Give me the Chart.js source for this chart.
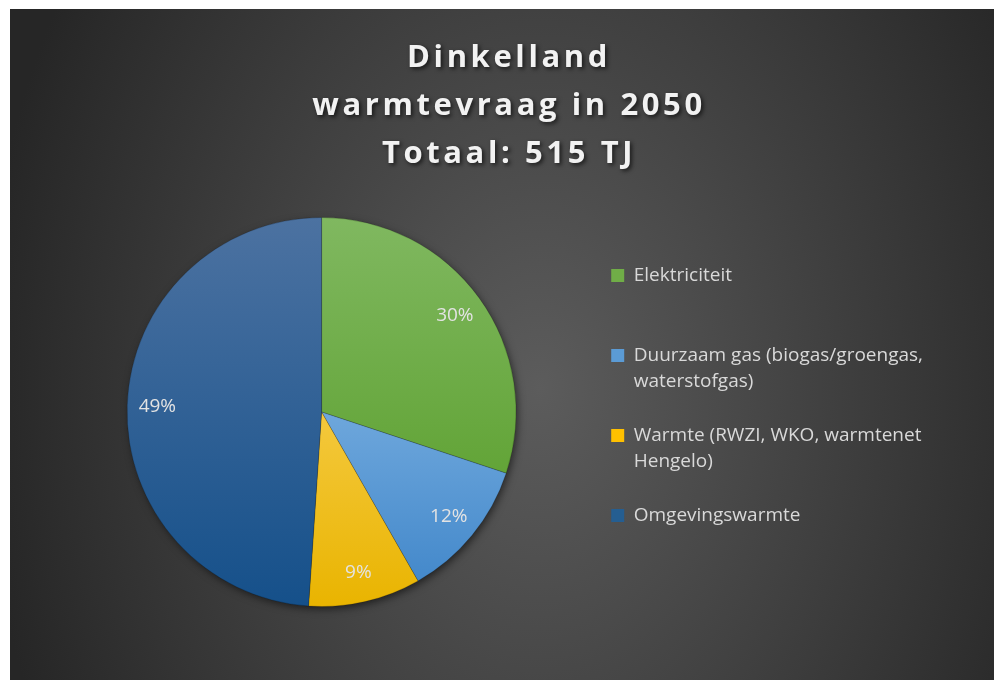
<!DOCTYPE html>
<html lang="nl">
<head>
<meta charset="utf-8">
<title>Dinkelland warmtevraag in 2050</title>
<script src="https://cdn.jsdelivr.net/npm/chart.js@4.4.1/dist/chart.umd.min.js"></script>
<style>
  html, body { margin: 0; padding: 0; background: #fff; }
  #frame {
    position: absolute; left: 10px; top: 9px; width: 984px; height: 671px;
    background: radial-gradient(ellipse 560px 760px at 530px 380px, #5c5c5c 0%, #262626 100%);
  }
  canvas { display: block; }
</style>
</head>
<body>
<div id="frame"><canvas id="warmteChart" width="984" height="671"></canvas></div>
<script>
/* Dinkelland – warmtevraag 2050, verdeling per bron (TJ) */

const titleLines = ['Dinkelland', 'warmtevraag in 2050', 'Totaal: 515 TJ'];
const categories = [
  'Elektriciteit',
  'Duurzaam gas (biogas/groengas, waterstofgas)',
  'Warmte (RWZI, WKO, warmtenet Hengelo)',
  'Omgevingswarmte'
];
// legend text as Excel wraps it (every item takes two lines of room)
const legendLines = [
  ['Elektriciteit', ''],
  ['Duurzaam gas (biogas/groengas,', 'waterstofgas)'],
  ['Warmte (RWZI, WKO, warmtenet', 'Hengelo)'],
  ['Omgevingswarmte', '']
];
const valuesTJ = [155, 60, 48, 252];

const sliceColors = ['#70ad47', '#5b9bd5', '#ffc000', '#255e91'];
const sliceTop    = ['#80b860', '#9fcaf0', '#ffdd7b', '#4c72a1'];
const sliceBottom = ['#539a22', '#3d84c8', '#e9b400', '#15508a'];

const FONT = "'Open Sans', 'Noto Sans', sans-serif";

// vertical gradient over the pie (pie fills the chart area height)
function sliceFill(c) {
  const area = c.chart.chartArea;
  if (!area) return sliceColors[c.dataIndex];
  const g = c.chart.ctx.createLinearGradient(0, area.top, 0, area.bottom);
  g.addColorStop(0, sliceTop[c.dataIndex]);
  g.addColorStop(1, sliceBottom[c.dataIndex]);
  return g;
}

// soft drop shadow under the whole pie
const pieShadow = {
  id: 'pieShadow',
  beforeDatasetsDraw(chart) {
    const arc = chart.getDatasetMeta(0).data[0];
    if (!arc) return;
    const ctx = chart.ctx;
    ctx.save();
    ctx.shadowColor = 'rgba(0,0,0,0.6)';
    ctx.shadowBlur = 9;
    ctx.shadowOffsetX = 2;
    ctx.shadowOffsetY = 3;
    ctx.fillStyle = '#2e2e2e';
    ctx.beginPath();
    ctx.arc(arc.x, arc.y, arc.outerRadius - 1, 0, Math.PI * 2);
    ctx.fill();
    ctx.restore();
  }
};

// percentage labels inside the slices
const sliceLabels = {
  id: 'sliceLabels',
  afterDatasetsDraw(chart) {
    const ctx = chart.ctx;
    const data = chart.data.datasets[0].data;
    const total = data.reduce((a, b) => a + b, 0);
    ctx.save();
    ctx.font = '19px ' + FONT;
    ctx.fillStyle = '#e3e3e3';
    ctx.textAlign = 'center';
    ctx.textBaseline = 'middle';
    chart.getDatasetMeta(0).data.forEach((arc, i) => {
      const p = arc.getProps(['x', 'y', 'startAngle', 'endAngle', 'outerRadius'], true);
      const mid = (p.startAngle + p.endAngle) / 2;
      const r = p.outerRadius * 0.845;
      ctx.fillText(Math.round(data[i] / total * 100) + '%', p.x + Math.cos(mid) * r, p.y + Math.sin(mid) * r);
    });
    ctx.restore();
  }
};

// title: centred over the frame, spaced letters + shadow
const titleStyle = {
  id: 'titleStyle',
  afterLayout(chart) {
    const tb = chart.titleBlock;
    if (!tb) return;
    tb.left = 14;
    tb.right = chart.width;
    tb.width = tb.right - tb.left;
    if (tb._styled) return;
    const draw = tb.draw.bind(tb);
    tb.draw = () => {
      const ctx = chart.ctx;
      ctx.save();
      ctx.letterSpacing = '3.6px';
      ctx.shadowColor = 'rgba(0,0,0,0.65)';
      ctx.shadowBlur = 4;
      ctx.shadowOffsetX = 2;
      ctx.shadowOffsetY = 2;
      draw();
      ctx.restore();
    };
    tb._styled = true;
  }
};

new Chart(document.getElementById('warmteChart'), {
  type: 'pie',
  data: {
    labels: categories,
    datasets: [{
      data: valuesTJ,
      backgroundColor: sliceFill,
      borderColor: 'rgba(0,0,0,0.18)',
      borderWidth: 1
    }]
  },
  plugins: [pieShadow, sliceLabels, titleStyle],
  options: {
    responsive: false,
    animation: false,
    events: [],
    layout: { padding: { top: 0, bottom: 73, left: 50, right: 61 } },
    plugins: {
      tooltip: { enabled: false },
      title: {
        display: true,
        text: titleLines,
        color: '#f2f2f2',
        font: { family: FONT, size: 31, weight: 'bold', lineHeight: 48 / 31 },
        padding: { top: 25, bottom: 39 }
      },
      legend: {
        position: 'right',
        align: 'center',
        fullSize: false,
        labels: {
          boxWidth: 13,
          boxHeight: 13,
          padding: 28,
          color: '#d9d9d9',
          font: { family: FONT, size: 19, lineHeight: 26 / 19 },
          generateLabels: () => legendLines.map((text, i) => ({
            text,
            fillStyle: sliceColors[i],
            strokeStyle: sliceColors[i],
            lineWidth: 0,
            fontColor: '#d9d9d9',
            hidden: false,
            index: i
          }))
        }
      }
    }
  }
});
</script>
</body>
</html>
